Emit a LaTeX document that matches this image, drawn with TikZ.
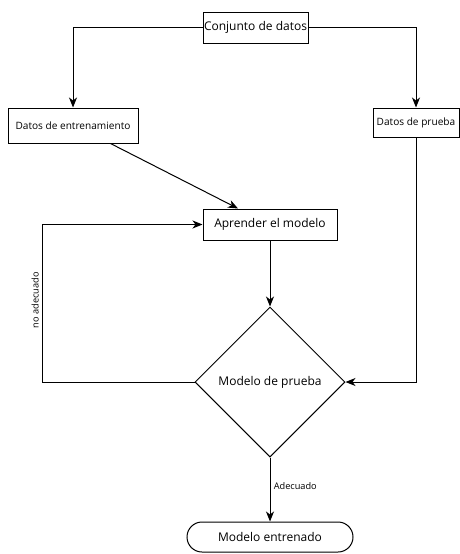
\documentclass[tikz,border=0pt]{standalone}
\usepackage{fontspec}
\setmainfont{Open Sans}
\usetikzlibrary{shapes.geometric, arrows.meta, positioning}

\begin{document}
\begin{tikzpicture}[
    x=1pt, y=-1pt,
    block/.style={rectangle, draw, line width=1pt, inner sep=0pt, align=center, fill=white},
    decision/.style={diamond, draw, line width=1pt, aspect=1, inner sep=0pt, minimum width=150pt, minimum height=150pt, align=center, fill=white},
    terminal/.style={rectangle, draw, line width=1pt, rounded corners=15pt, inner sep=0pt, minimum width=166pt, minimum height=30pt, fill=white},
    arrow/.style={-{Stealth[length=10pt, width=8pt, inset=3pt]}, line width=1pt},
    big/.style={font=\fontsize{12}{14}\selectfont},
    small/.style={font=\fontsize{10.1}{12}\selectfont},
    tiny/.style={font=\fontsize{9.2}{11}\selectfont}
]
    \useasboundingbox (0,0) rectangle (459,554);

    % Data nodes
    \node[block, big, minimum width=105pt, minimum height=31pt] (conjunto) at (255.5,27.5) {Conjunto de datos};
    \node[block, small, minimum width=130pt, minimum height=35pt] (entrena) at (73,125.5) {Datos de entrenamiento};
    \node[block, small, minimum width=86pt, minimum height=29pt] (prueba) at (416,122.5) {Datos de prueba};

    % Model nodes
    \node[block, big, minimum width=134pt, minimum height=31pt] (aprender) at (270,224.5) {Aprender el modelo};
    \node[decision, big] (evalua) at (270,382) {Modelo de prueba};
    \node[terminal, big] (final) at (270,537) {Modelo entrenado};

    % Edges
    \draw[arrow] (conjunto.west) -| (entrena.north);
    \draw[arrow] (conjunto.east) -| (prueba.north);
    \draw[arrow] ([xshift=-28pt]entrena.south east) -- ([xshift=-32pt]aprender.north);
    \draw[arrow] (aprender) -- (evalua);
    \draw[arrow] (prueba.south) |- (evalua.east);
    \draw[arrow] (evalua.west) -- ++(-152,0) |- node[pos=0.26, sloped, above, tiny] {no adecuado} (aprender.west);
    \draw[arrow] (evalua.south) -- node[pos=0.45, right, tiny] {Adecuado} (final.north);

\end{tikzpicture}
\end{document}
